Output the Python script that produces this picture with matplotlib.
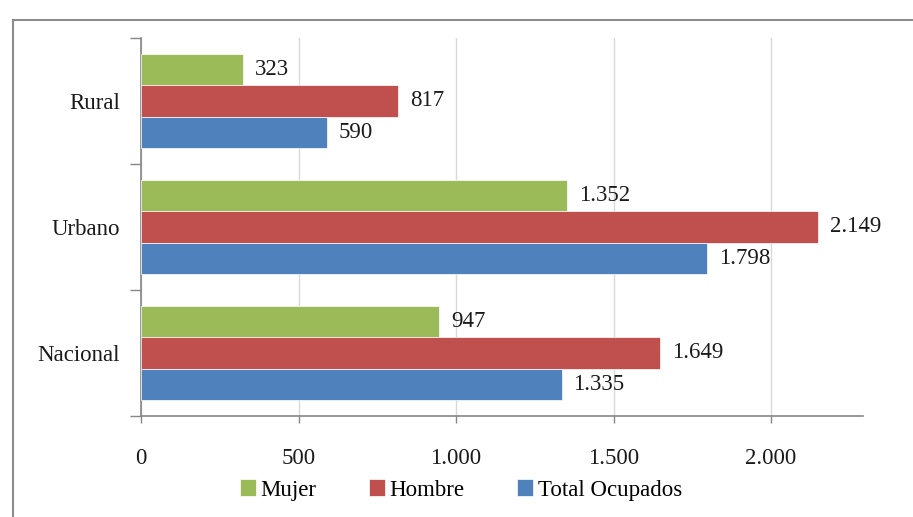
import numpy as np
import matplotlib
matplotlib.use("Agg")
import matplotlib.pyplot as plt
from matplotlib.lines import Line2D

plt.rcParams['font.family'] = ['Liberation Serif', 'DejaVu Serif']

categorias = ["Nacional", "Urbano", "Rural"]
mujer = [947, 1352, 323]
hombre = [1649, 2149, 817]
total = [1335, 1798, 590]
series = ["Mujer", "Hombre", "Total Ocupados"]
colores = ["#9BBB59", "#C0504D", "#4F81BD"]

def fmt(v):
    return f"{v:,}".replace(",", ".")

fig = plt.figure(figsize=(9.13, 5.17), dpi=100)
ax = fig.add_axes([141/913, 1-416/517, (863-141)/913, (416-38)/517])

y = np.arange(len(categorias))
h = 0.25
offsets = [h, 0, -h]
for vals, off, col, name in zip([mujer, hombre, total], offsets, colores, series):
    bars = ax.barh(y + off, vals, height=h, color=col, edgecolor="white", linewidth=0.5, label=name, zorder=3)
    for b, v in zip(bars, vals):
        ax.annotate(fmt(v), (b.get_width(), b.get_y() + b.get_height()/2),
                    xytext=(12, 0), textcoords="offset pixels",
                    va="center", ha="left", fontsize=16.5, color="#1a1a1a", zorder=4)

ax.set_xlim(0, 2292)
ax.set_ylim(-0.5, 2.5)
ax.set_xticks([0, 500, 1000, 1500, 2000])
ax.set_xticklabels([fmt(t) for t in [0, 500, 1000, 1500, 2000]], fontsize=16.5, color="#1a1a1a")
ax.set_yticks([-0.5, 0.5, 1.5, 2.5])
ax.set_yticklabels([])
ax.set_yticks(y, minor=True)
ax.set_yticklabels(categorias, minor=True, fontsize=16.5, color="#1a1a1a")
ax.tick_params(axis="y", which="major", length=8, width=1, color="#868686", direction="out")
ax.tick_params(axis="y", which="minor", length=0, pad=15)
ax.tick_params(axis="x", length=5, width=1, color="#868686", pad=18)
ax.grid(axis="x", color="#d9d9d9", linewidth=1, zorder=0)
for s in ["top", "right"]:
    ax.spines[s].set_visible(False)
for s in ["left", "bottom"]:
    ax.spines[s].set_color("#868686")
    ax.spines[s].set_linewidth(1.2)

fig.legend(loc="center", bbox_to_anchor=(461/913, 1-490/517), ncol=3, frameon=False,
           fontsize=16.5, handlelength=0.7, handleheight=0.7, handletextpad=0.2,
           columnspacing=2.3)

# chart border (left and top edges visible)
fig.add_artist(Line2D([12.5/913, 12.5/913], [0, 1-20/517], transform=fig.transFigure, color="#8c8c8c", linewidth=1.5))
fig.add_artist(Line2D([12.5/913, 1], [1-20/517, 1-20/517], transform=fig.transFigure, color="#8c8c8c", linewidth=1.5))

fig.savefig("out.png", dpi=100)
